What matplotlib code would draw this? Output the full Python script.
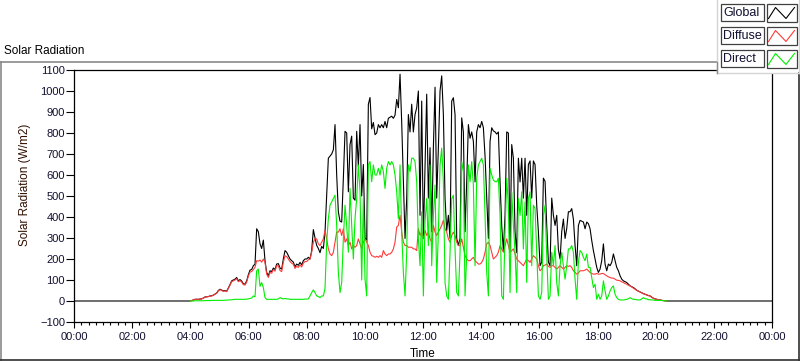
import numpy as np
import matplotlib
matplotlib.use('Agg')
import matplotlib.pyplot as plt
from matplotlib.ticker import MultipleLocator, FuncFormatter
from matplotlib.patches import Rectangle
from matplotlib.lines import Line2D

# ---------------- data ----------------
start_min = 239.3      # first sample (minutes after midnight)
step_min = 3.439       # sampling step (minutes)

global_rad = [
    0,2,5,8,8,8,9,10,14,19,
    20,21,24,25,28,33,38,50,56,52,
    48,50,46,62,78,96,100,104,112,96,
    102,95,82,80,96,125,147,150,168,175,
    344,330,272,250,290,192,136,120,144,140,
    157,150,176,178,157,152,200,240,232,216,
    200,192,185,163,176,170,184,172,192,200,
    200,208,
    200,240,340,300,265,250,230,260,250,328,
    504,680,690,700,720,840,600,424,380,376,
    584,808,800,520,745,785,490,480,808,640,
    840,500,650,300,290,937,969,820,850,792,
    800,840,825,840,825,855,825,870,875,880,
    870,885,960,920,
    1080,850,567,298,488,888,805,937,805,888,
    920,1000,408,952,298,650,985,490,730,330,
    730,1018,490,730,1000,1072,888,490,335,408,
    298,952,968,888,298,265,298,872,805,330,
    567,840,775,805,760,567,805,840,825,855,
    825,690,490,298,
    760,825,810,805,795,805,567,360,240,408,
    805,800,245,745,680,330,230,680,567,680,
    490,680,408,650,667,490,667,650,456,330,
    168,185,585,570,360,185,168,490,408,360,
    408,245,200,330,390,298,345,425,425,440,
    390,265,168,360,
    384,380,376,344,376,368,344,288,240,200,
    160,136,152,192,272,176,144,176,168,184,
    224,192,160,144,120,104,96,92,88,80,
    72,68,64,58,51,47,43,39,35,32,
    29,26,24,18,13,10,8,6,5,3,
    2,1,0,
]

diffuse_rad = [
    0,2,5,8,8,8,9,10,14,19,
    20,21,23,24,27,32,37,48,54,50,
    46,48,45,60,75,92,96,100,106,92,
    97,90,78,76,90,118,138,140,150,160,
    192,190,195,185,200,184,128,112,136,132,
    150,142,168,168,145,140,185,215,212,200,
    188,180,175,155,165,160,172,162,180,188,
    188,196,
    200,232,280,296,296,272,264,280,296,336,
    296,248,224,216,232,280,328,328,344,312,
    344,280,296,264,280,248,264,256,264,296,
    272,248,280,296,280,264,232,216,213,208,
    213,208,216,208,240,224,216,224,224,232,
    248,280,352,360,
    408,328,280,264,264,256,256,256,248,248,
    240,344,312,328,296,336,312,328,296,280,
    360,328,312,328,344,360,384,344,328,296,
    280,312,328,312,280,264,264,296,256,216,
    200,192,192,200,208,192,184,176,176,184,
    200,232,272,280,
    264,232,200,208,216,232,264,248,232,264,
    296,264,232,240,248,224,200,192,184,176,
    168,184,200,192,184,200,216,208,200,168,
    144,152,168,171,176,165,160,168,168,160,
    152,160,168,160,152,160,168,165,168,160,
    144,136,128,133,
    144,144,144,147,152,144,136,131,128,128,
    131,128,128,131,131,125,120,115,112,109,
    109,104,99,98,96,91,88,83,80,75,
    72,67,61,56,51,47,43,39,35,32,
    29,26,24,18,13,10,8,6,5,3,
    2,1,0,
]

direct_rad = [
    0,0,0,1,1,1,1,1,1,2,
    2,2,2,3,3,3,3,3,3,3,
    3,4,4,5,5,6,7,8,8,8,
    8,8,8,8,9,10,12,14,24,20,
    144,152,70,88,64,16,8,8,8,8,
    8,8,8,10,16,12,10,12,10,10,
    8,8,8,8,8,8,8,8,8,9,
    9,10,
    24,40,53,40,24,21,16,24,24,60,
    280,392,456,472,488,504,360,136,40,88,
    296,456,360,232,536,360,200,392,488,648,
    520,100,488,104,24,648,664,568,648,600,
    600,632,600,648,616,536,632,664,648,664,
    648,600,520,392,
    648,328,136,24,230,648,616,680,680,664,
    568,296,168,424,24,376,488,264,648,168,
    408,552,88,328,648,728,568,88,24,8,
    232,488,504,248,40,24,232,664,616,24,
    216,648,568,664,552,168,584,648,664,680,
    648,408,136,24,
    632,600,576,568,568,584,408,24,8,328,
    584,456,40,520,360,232,40,488,408,520,
    248,472,88,488,520,168,456,440,232,24,
    8,40,408,456,216,8,24,232,168,264,
    88,24,168,232,168,104,168,248,248,264,
    232,104,8,184,
    240,232,208,192,224,160,160,112,64,80,
    8,32,8,24,96,48,8,24,48,64,
    72,32,16,8,5,5,5,6,8,11,
    16,11,8,8,6,5,5,10,16,11,
    10,6,6,5,5,3,3,3,3,2,
    2,1,0,
]

series_names = ["Global", "Diffuse", "Direct"]
series_colors = ["#000000", "#ff3a3a", "#00ee00"]

y_ticks = list(range(-100, 1101, 100))

assert len(global_rad) == len(diffuse_rad) == len(direct_rad)

t = start_min + step_min * np.arange(len(global_rad))
# global line spans the whole day (zero at night)
t_glob = np.concatenate([[0.0], t, [1440.0]])
g_glob = np.concatenate([[0.0], global_rad, [0.0]])

# ---------------- figure ----------------
FONT = ['Liberation Sans Narrow', 'Liberation Sans', 'DejaVu Sans']
plt.rcParams['font.family'] = FONT

W, H = 800, 361
fig = plt.figure(figsize=(W / 100, H / 100), dpi=100)
fig.patch.set_facecolor('white')

L, R, T, B = 74, 772, 70, 322
ax = fig.add_axes([L / W, 1 - B / H, (R - L) / W, (B - T) / H])
ax.set_facecolor('white')

lw = 0.8
ax.plot(t_glob, g_glob, color=series_colors[0], lw=lw, zorder=3)
ax.plot(t, diffuse_rad, color=series_colors[1], lw=lw, zorder=4)
ax.plot(t, direct_rad, color=series_colors[2], lw=lw, zorder=5)

ax.set_xlim(0, 1440)
ax.set_ylim(-100, 1100)
ax.set_yticks(y_ticks)
ax.xaxis.set_major_locator(MultipleLocator(120))
ax.xaxis.set_minor_locator(MultipleLocator(15))


def fmt_time(v, pos):
    m = int(round(v)) % 1440
    return f"{m // 60:02d}:{m % 60:02d}"


ax.xaxis.set_major_formatter(FuncFormatter(fmt_time))

for s in ax.spines.values():
    s.set_linewidth(0.9)
    s.set_color('black')

ax.tick_params(axis='y', which='major', direction='out', length=5.5, width=0.8,
               pad=1, labelsize=8, colors='black')
ax.tick_params(axis='x', which='major', direction='out', length=4, width=0.8,
               pad=3.5, labelsize=8, colors='black')
ax.tick_params(axis='x', which='minor', direction='out', length=2.2, width=0.8)
for lab in ax.get_yticklabels() + ax.get_xticklabels():
    lab.set_color('#101030')

ax.set_xlabel("Time", fontsize=8.5, labelpad=1)
ax.xaxis.set_label_coords(0.5, -0.105)
ax.set_ylabel("Solar Radiation (W/m2)", fontsize=8.5, color='#301000')
ax.yaxis.set_label_coords(-0.062, 0.545)

# ---------------- frame, title and legend (pixel overlay) ----------------
ov = fig.add_axes([0, 0, 1, 1], zorder=10)
ov.set_xlim(0, W)
ov.set_ylim(H, 0)
ov.axis('off')
ov.patch.set_alpha(0)

gray = '#8a8a8a'
dark = '#303030'
light = '#d4d4d4'
ov.add_line(Line2D([0, 717], [61.5, 61.5], color=gray, lw=1.2))
ov.add_line(Line2D([0.7, 0.7], [61.5, 360], color=gray, lw=1.2))
ov.add_line(Line2D([0, 800], [359.7, 359.7], color=dark, lw=1.2))
ov.add_line(Line2D([799.3, 799.3], [73, 360], color=dark, lw=1.2))

ov.text(4, 51, "Solar Radiation", fontsize=8.5, ha='left', va='center', color='black')

# legend panel (covers the plot's upper right corner)
ov.add_patch(Rectangle((717, 0), 83, 73, facecolor='white', edgecolor='none', zorder=1))
ov.add_line(Line2D([717, 717], [0, 73], color=light, lw=1.0, zorder=2))
ov.add_line(Line2D([717, 798.5], [73, 73], color=light, lw=1.0, zorder=2))
ov.add_line(Line2D([798.5, 798.5], [0, 73], color=light, lw=1.0, zorder=2))
ov.add_line(Line2D([717, 717], [61.5, 73], color=gray, lw=1.0, zorder=2))

row_top = [4, 27, 50]
for name, col, y0 in zip(series_names, series_colors, row_top):
    ov.add_patch(Rectangle((720.5, y0), 43, 17, facecolor='white', edgecolor='#404040',
                           lw=0.9, zorder=3))
    ov.text(723, y0 + 8.7, name, fontsize=9, ha='left', va='center', color='#101030', zorder=4)
    ov.add_patch(Rectangle((766.5, y0), 30, 17.5, facecolor='white', edgecolor='#404040',
                           lw=0.9, zorder=3))
    zx = [768.5, 775.5, 786, 794.5]
    zy = [y0 + 14.5, y0 + 3.5, y0 + 14.5, y0 + 3.5]
    ov.add_line(Line2D(zx, zy, color=col, lw=0.8, zorder=4))

fig.savefig("out.png", dpi=100, facecolor='white')
